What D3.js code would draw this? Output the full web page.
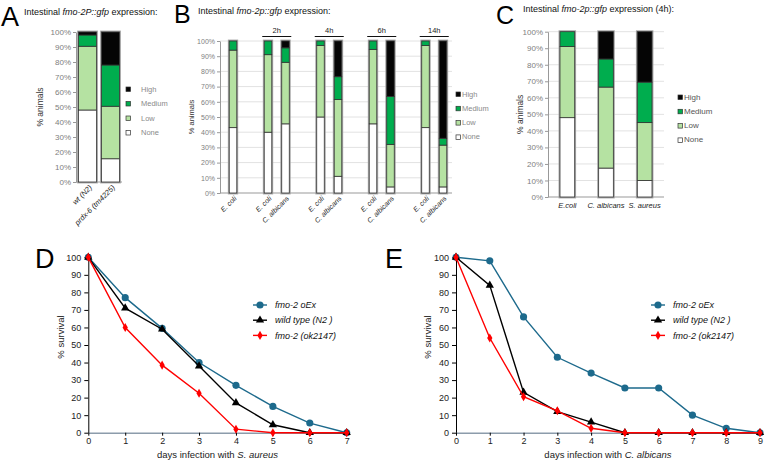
<!DOCTYPE html>
<html>
<head>
<meta charset="utf-8">
<script src="https://cdn.jsdelivr.net/npm/d3@7"></script>
<style>
body { margin: 0; background: #fff; }
svg { display: block; }
text { font-family: Arial, "Liberation Sans", sans-serif; }
</style>
</head>
<body>
<div id="fig"></div>
<script>
"use strict";

// ---- data -------------------------------------------------------------
// stacked levels, bottom to top
const levels = ["None", "Low", "Medium", "High"];
const levelColor = { None: "#ffffff", Low: "#b5e2a2", Medium: "#00ad4e", High: "#050505" };

// Panel A
const aLabels = ["wt (N2)", "prdx-6 (tm4225)"];
const aNone = [48, 15.5];
const aLow = [42.5, 35];
const aMed = [7.5, 27.5];
const aHigh = [2, 22];

// Panel B
const bLabels = ["E. coli", "E. coli", "C. albicans", "E. coli", "C. albicans", "E. coli", "C. albicans", "E. coli", "C. albicans"];
const bTimes = ["", "2h", "2h", "4h", "4h", "6h", "6h", "14h", "14h"];
const bNone = [43, 40, 45.5, 50, 11, 45.5, 4, 43, 4];
const bLow = [51, 51, 40.5, 47, 50.5, 49, 28, 54, 27.5];
const bMed = [6, 9, 9.5, 3, 15, 5.5, 31.5, 3, 4.5];
const bHigh = [0, 0, 4.5, 0, 23.5, 0, 36.5, 0, 64];

// Panel C
const cLabels = ["E.coli", "C. albicans", "S. aureus"];
const cNone = [48, 17.5, 10];
const cLow = [43, 49, 35];
const cMed = [9, 17, 24.5];
const cHigh = [0, 16.5, 30.5];

// Panel D (S. aureus) and E (C. albicans), % survival per day
const survSeries = ["fmo-2 oEx", "wild type (N2 )", "fmo-2 (ok2147)"];
const dOex = [100, 77, 59.5, 40, 27, 15, 5.5, 0];
const dWt = [100, 71, 59, 38, 17, 4.5, 0, 0];
const dKo = [100, 60, 38.5, 22.5, 2, 0, 0, 0];
const eOex = [100, 98, 66, 43, 34, 25.5, 25.5, 10, 2.5, 0];
const eWt = [100, 84, 23, 12, 6, 0, 0, 0, 0, 0];
const eKo = [100, 54, 20.5, 12.5, 2.5, 0, 0, 0, 0, 0];

// ---- svg --------------------------------------------------------------
let svg = d3.select("#fig").append("svg")
    .attr("width", 765)
    .attr("height", 461);

svg.append("rect").attr("width", 765).attr("height", 461).attr("fill", "#fff");

function panelLetter(letter, x, y, size) {
    svg.append("text")
        .attr("x", x).attr("y", y)
        .attr("font-size", size)
        .attr("fill", "#000")
        .text(letter);
}

function panelTitle(x, y, gene, tail) {
    let t = svg.append("text")
        .attr("x", x).attr("y", y)
        .attr("font-size", 9)
        .attr("fill", "#111");
    t.append("tspan").text("Intestinal ");
    t.append("tspan").attr("font-style", "italic").text(gene);
    t.append("tspan").text(tail);
}

function drawStacked(cfg) {
    /* Draw one stacked percentage bar panel */
    let g = svg.append("g");

    let y = d3.scaleLinear().domain([0, 100]).range([cfg.y0, cfg.y1]);
    let x = d3.scaleBand()
        .domain(d3.range(cfg.nSlots))
        .range([cfg.bx0, cfg.bx1])
        .paddingInner(cfg.padIn)
        .paddingOuter(cfg.padOut);

    let rows = cfg.labels.map((l, i) => ({
        slot: cfg.slots[i],
        label: l,
        None: cfg.none[i],
        Low: cfg.low[i],
        Medium: cfg.med[i],
        High: cfg.high[i]
    }));
    let stacked = d3.stack().keys(levels)(rows);

    // gridlines
    if (cfg.grid) {
        g.selectAll(".grid")
            .data(d3.range(10, 101, 10)).enter()
            .append("line")
            .attr("x1", cfg.ax).attr("x2", cfg.gx1)
            .attr("y1", d => y(d)).attr("y2", d => y(d))
            .attr("stroke", "#e2e2e2")
            .attr("stroke-width", 1);
    }

    // y axis
    let yAxis = g.append("g")
        .attr("transform", "translate(" + cfg.ax + ",0)")
        .call(d3.axisLeft(y).tickValues(d3.range(0, 101, 10)).tickFormat(d => d + "%").tickSize(3).tickPadding(2).tickSizeOuter(0));
    yAxis.select(".domain").attr("stroke", "#999");
    yAxis.selectAll(".tick line").attr("stroke", "#999");
    yAxis.selectAll("text")
        .attr("fill", "#808080")
        .attr("font-size", cfg.tickFont)
        .attr("font-family", "Arial, 'Liberation Sans', sans-serif");

    // baseline
    g.append("line")
        .attr("x1", cfg.ax).attr("x2", cfg.gx1)
        .attr("y1", y(0)).attr("y2", y(0))
        .attr("stroke", "#999").attr("stroke-width", 1.2);

    // y title
    g.append("text")
        .attr("transform", "translate(" + cfg.yTitleX + "," + (cfg.y0 + cfg.y1) / 2 + ") rotate(-90)")
        .attr("text-anchor", "middle")
        .attr("font-size", cfg.tickFont + 0.5)
        .attr("fill", "#333")
        .text("% animals");

    // grey frame behind each bar
    g.selectAll(".frame")
        .data(rows).enter()
        .append("rect")
        .attr("x", d => x(d.slot) - 0.6)
        .attr("y", y(100) - 0.6)
        .attr("width", x.bandwidth() + 1.2)
        .attr("height", y(0) - y(100) + 1.2)
        .attr("fill", "none")
        .attr("stroke", "#a0a0a0")
        .attr("stroke-width", 1.6);

    // bar segments
    g.selectAll(".layer")
        .data(stacked).enter()
        .append("g")
        .attr("fill", d => levelColor[d.key])
        .selectAll("rect")
        .data(d => d.filter(s => s[1] > s[0])).enter()
        .append("rect")
        .attr("x", d => x(d.data.slot))
        .attr("y", d => y(d[1]))
        .attr("width", x.bandwidth())
        .attr("height", d => y(d[0]) - y(d[1]))
        .attr("stroke", "#333")
        .attr("stroke-width", 0.8);

    // category labels
    let lab = g.selectAll(".xlab")
        .data(rows).enter()
        .append("text")
        .attr("font-size", cfg.labelFont)
        .attr("font-style", "italic")
        .attr("fill", "#222");
    if (cfg.rotate) {
        lab.attr("text-anchor", "end")
            .attr("transform", d => "translate(" + (x(d.slot) + x.bandwidth() / 2 + cfg.labelDx) + "," + (y(0) + cfg.labelDy) + ") rotate(-45)")
            .text(d => d.label);
    } else {
        lab.attr("text-anchor", "middle")
            .attr("x", d => x(d.slot) + x.bandwidth() / 2)
            .attr("y", y(0) + cfg.labelDy)
            .text(d => d.label);
    }

    // legend, top to bottom High..None
    let leg = g.selectAll(".leg")
        .data(levels.slice().reverse()).enter()
        .append("g")
        .attr("transform", (d, i) => "translate(" + cfg.legX + "," + (cfg.legY + i * cfg.legDy) + ")");
    leg.append("rect")
        .attr("x", 0).attr("y", -4)
        .attr("width", 4.5).attr("height", 4.5)
        .attr("fill", d => levelColor[d])
        .attr("stroke", "#333").attr("stroke-width", 0.7);
    leg.append("text")
        .attr("x", cfg.legGap).attr("y", 0.5)
        .attr("font-size", cfg.legFont)
        .attr("fill", cfg.legColor)
        .text(d => d);

    return { x: x, y: y, g: g };
}

// ---- Panel A ----------------------------------------------------------
panelLetter("A", 1, 26, 27);
panelTitle(24, 15, "fmo-2P::gfp", " expression:");
drawStacked({
    labels: aLabels, slots: [0, 1], nSlots: 2,
    none: aNone, low: aLow, med: aMed, high: aHigh,
    y0: 182, y1: 32, bx0: 76, bx1: 122, padIn: 0.22, padOut: 0.11,
    ax: 76, gx1: 122, grid: false, tickFont: 8, yTitleX: 43,
    rotate: true, labelFont: 7.5, labelDx: 5, labelDy: 6,
    legX: 126, legY: 91, legDy: 14.5, legGap: 15, legFont: 7.5, legColor: "#8a8a8a"
});

// ---- Panel B ----------------------------------------------------------
panelLetter("B", 174, 23, 25);
panelTitle(198, 14, "fmo-2p::gfp", " expression:");
// leave an empty slot before each new time point
let bSlots = [];
bTimes.forEach((t, i) => {
    if (i === 0) bSlots.push(0);
    else bSlots.push(bSlots[i - 1] + (t !== bTimes[i - 1] ? 2 : 1));
});
let bPanel = drawStacked({
    labels: bLabels, slots: bSlots, nSlots: bSlots[bSlots.length - 1] + 1,
    none: bNone, low: bLow, med: bMed, high: bHigh,
    y0: 193, y1: 41, bx0: 224, bx1: 452, padIn: 0.57, padOut: 0.3,
    ax: 220, gx1: 452, grid: true, tickFont: 7, yTitleX: 194,
    rotate: true, labelFont: 7, labelDx: 4, labelDy: 6,
    legX: 456, legY: 96, legDy: 14.3, legGap: 6, legFont: 7.5, legColor: "#8a8a8a"
});
// time point brackets
let timeGroups = Array.from(new Set(bTimes.filter(t => t !== "")));
timeGroups.forEach(t => {
    let idx = bTimes.map((v, i) => v === t ? i : -1).filter(i => i >= 0);
    let xa = bPanel.x(bSlots[idx[0]]) - 2;
    let xb = bPanel.x(bSlots[idx[idx.length - 1]]) + bPanel.x.bandwidth() + 2;
    svg.append("line")
        .attr("x1", xa).attr("x2", xb)
        .attr("y1", 36.5).attr("y2", 36.5)
        .attr("stroke", "#111").attr("stroke-width", 1);
    svg.append("text")
        .attr("x", (xa + xb) / 2).attr("y", 33)
        .attr("text-anchor", "middle")
        .attr("font-size", 7.5)
        .attr("fill", "#222")
        .text(t);
});

// ---- Panel C ----------------------------------------------------------
panelLetter("C", 496, 23.5, 25);
panelTitle(523, 12, "fmo-2p::gfp", " expression (4h):");
drawStacked({
    labels: cLabels, slots: [0, 1, 2], nSlots: 3,
    none: cNone, low: cLow, med: cMed, high: cHigh,
    y0: 197, y1: 31.7, bx0: 548, bx1: 664, padIn: 0.62, padOut: 0.31,
    ax: 548, gx1: 664, grid: true, tickFont: 8, yTitleX: 523,
    rotate: false, labelFont: 7.5, labelDy: 11,
    legX: 678, legY: 99, legDy: 14.3, legGap: 6, legFont: 8, legColor: "#555"
});

// ---- Survival panels --------------------------------------------------
const survColor = ["#1d6a8c", "#000000", "#ff0000"];
const survSymbol = [d3.symbolCircle, d3.symbolTriangle, d3.symbolDiamond];
const survSize = [40, 30, 24];

function drawSurvival(cfg) {
    let g = svg.append("g");
    let x = d3.scaleLinear().domain([0, cfg.series[0].length - 1]).range([cfg.x0, cfg.x1]);
    let y = d3.scaleLinear().domain([0, 100]).range([432.7, 257.3]);

    // y axis
    let yAxis = g.append("g")
        .attr("transform", "translate(" + cfg.x0 + ",0)")
        .call(d3.axisLeft(y).tickValues(d3.range(0, 101, 10)).tickSize(4).tickPadding(3).tickSizeOuter(0));
    yAxis.select(".domain").attr("stroke", "#000");
    yAxis.selectAll("text").attr("font-size", 9).attr("fill", "#222")
        .attr("font-family", "Arial, 'Liberation Sans', sans-serif");

    // x axis
    let xAxis = g.append("g")
        .attr("transform", "translate(0," + y(0) + ")")
        .call(d3.axisBottom(x).ticks(cfg.series[0].length - 1).tickFormat(d3.format("d")).tickSize(3).tickPadding(2).tickSizeOuter(0));
    xAxis.select(".domain").attr("stroke", "#8c9cab").attr("stroke-width", 1.6);
    xAxis.selectAll("text").attr("font-size", 9).attr("fill", "#222")
        .attr("font-family", "Arial, 'Liberation Sans', sans-serif");

    // axis titles
    g.append("text")
        .attr("transform", "translate(" + cfg.yTitleX + "," + 337 + ") rotate(-90)")
        .attr("text-anchor", "middle")
        .attr("font-size", 9.5)
        .attr("fill", "#222")
        .text("% survival");
    let xt = g.append("text")
        .attr("x", (cfg.x0 + cfg.x1) / 2).attr("y", 457.5)
        .attr("text-anchor", "middle")
        .attr("font-size", 9.5)
        .attr("fill", "#222");
    xt.append("tspan").text("days infection with ");
    xt.append("tspan").attr("font-style", "italic").text(cfg.pathogen);

    // lines and markers
    let line = d3.line().x((d, i) => x(i)).y(d => y(d));
    cfg.series.forEach((s, k) => {
        g.append("path")
            .datum(s)
            .attr("d", line)
            .attr("fill", "none")
            .attr("stroke", survColor[k])
            .attr("stroke-width", 1.4);
        g.selectAll(".m" + k)
            .data(s).enter()
            .append("path")
            .attr("transform", (d, i) => "translate(" + x(i) + "," + y(d) + ")")
            .attr("d", d3.symbol().type(survSymbol[k]).size(survSize[k]))
            .attr("fill", survColor[k]);
    });

    // legend
    survSeries.forEach((name, k) => {
        let ly = 305 + k * 15.2;
        g.append("line")
            .attr("x1", cfg.legX).attr("x2", cfg.legX + 14)
            .attr("y1", ly).attr("y2", ly)
            .attr("stroke", survColor[k]).attr("stroke-width", 1.4);
        g.append("path")
            .attr("transform", "translate(" + (cfg.legX + 7) + "," + ly + ")")
            .attr("d", d3.symbol().type(survSymbol[k]).size(survSize[k]))
            .attr("fill", survColor[k]);
        g.append("text")
            .attr("x", cfg.legX + 22).attr("y", ly + 3.2)
            .attr("font-size", 9)
            .attr("font-style", "italic")
            .attr("fill", "#111")
            .text(name);
    });
}

panelLetter("D", 35, 268, 27);
drawSurvival({ series: [dOex, dWt, dKo], x0: 88.3, x1: 346.7, yTitleX: 64, legX: 253, pathogen: "S. aureus" });

panelLetter("E", 385, 268, 27);
drawSurvival({ series: [eOex, eWt, eKo], x0: 456, x1: 760, yTitleX: 431, legX: 651, pathogen: "C. albicans" });
</script>
</body>
</html>
